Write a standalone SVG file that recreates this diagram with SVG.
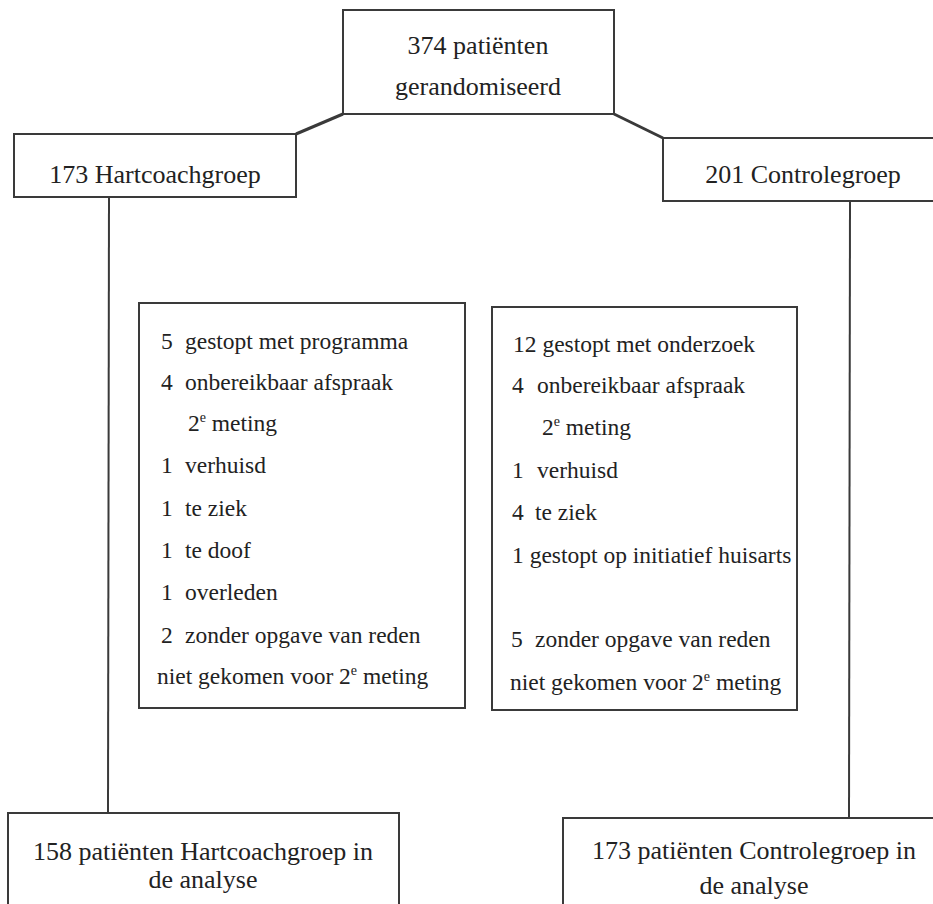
<svg xmlns="http://www.w3.org/2000/svg" width="933" height="904" viewBox="0 0 933 904" font-family="Liberation Serif, DejaVu Serif, serif">
<style>
.box{fill:#fff;stroke:#3a3a3a;stroke-width:2}
text{font-family:'Liberation Serif','DejaVu Serif',serif;fill:#222}
.big{font-size:26px}
.mid{font-size:23.5px}
.c{text-anchor:middle}
.con{stroke:#3a3a3a;fill:none}
.sup{font-size:14px}
</style>
<rect width="933" height="904" fill="#fff"/>
<g id="connectors">
<line class="con" stroke-width="3" x1="343" y1="114" x2="296" y2="134"/>
<line class="con" stroke-width="3" x1="614" y1="114" x2="663" y2="138"/>
<line class="con" stroke-width="2" x1="109" y1="197" x2="108" y2="813"/>
<line class="con" stroke-width="2" x1="850" y1="201" x2="849" y2="818"/>
</g>
<g id="top">
<rect class="box" x="343" y="10" width="271" height="104"/>
<text class="big c" x="478" y="54">374 patiënten</text>
<text class="big c" x="478" y="95">gerandomiseerd</text>
</g>
<g id="hartcoach">
<rect class="box" x="14" y="134" width="282" height="63"/>
<text class="big c" x="155" y="183">173 Hartcoachgroep</text>
</g>
<g id="controle">
<rect class="box" x="663" y="138" width="280" height="63"/>
<text class="big c" x="803" y="183">201 Controlegroep</text>
</g>
<g id="uitval-hartcoach">
<rect class="box" x="139" y="303" width="326" height="405"/>
<text class="mid" x="161" y="349">5</text><text class="mid" x="185" y="349">gestopt met programma</text>
<text class="mid" x="161" y="390">4</text><text class="mid" x="185" y="390">onbereikbaar afspraak</text>
<text class="mid" x="188" y="431">2<tspan class="sup" dy="-9">e</tspan><tspan dy="9"> meting</tspan></text>
<text class="mid" x="161" y="473">1</text><text class="mid" x="185" y="473">verhuisd</text>
<text class="mid" x="161" y="516">1</text><text class="mid" x="185" y="516">te ziek</text>
<text class="mid" x="161" y="558">1</text><text class="mid" x="185" y="558">te doof</text>
<text class="mid" x="161" y="600">1</text><text class="mid" x="185" y="600">overleden</text>
<text class="mid" x="161" y="643">2</text><text class="mid" x="185" y="643">zonder opgave van reden</text>
<text class="mid" x="157" y="684">niet gekomen voor 2<tspan class="sup" dy="-9">e</tspan><tspan dy="9"> meting</tspan></text>
</g>
<g id="uitval-controle">
<rect class="box" x="492" y="307" width="305" height="403"/>
<text class="mid" x="513" y="352">12 gestopt met onderzoek</text>
<text class="mid" x="512" y="393">4</text><text class="mid" x="537" y="393">onbereikbaar afspraak</text>
<text class="mid" x="542" y="435">2<tspan class="sup" dy="-9">e</tspan><tspan dy="9"> meting</tspan></text>
<text class="mid" x="512" y="478">1</text><text class="mid" x="537" y="478">verhuisd</text>
<text class="mid" x="512" y="520">4</text><text class="mid" x="535" y="520">te ziek</text>
<text class="mid" x="512" y="563">1 gestopt op initiatief huisarts</text>
<text class="mid" x="511" y="647">5</text><text class="mid" x="535" y="647">zonder opgave van reden</text>
<text class="mid" x="510" y="690">niet gekomen voor 2<tspan class="sup" dy="-9">e</tspan><tspan dy="9"> meting</tspan></text>
</g>
<g id="analyse-hartcoach">
<rect class="box" x="8" y="813" width="391" height="110"/>
<text class="big c" x="203" y="860">158 patiënten Hartcoachgroep in</text>
<text class="big c" x="203" y="888">de analyse</text>
</g>
<g id="analyse-controle">
<rect class="box" x="563" y="818" width="382" height="110"/>
<text class="big c" x="754" y="859">173 patiënten Controlegroep in</text>
<text class="big c" x="754" y="894">de analyse</text>
</g>
</svg>
